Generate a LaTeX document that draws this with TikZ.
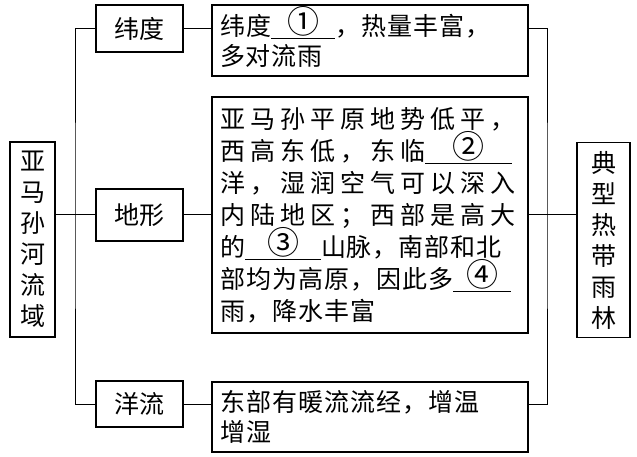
\documentclass[tikz,border=0pt]{standalone}
\usepackage{fontspec}
\newfontfamily\cjk{Noto Sans CJK SC}
\newfontfamily\cjkwide[LetterSpace=20]{Noto Sans CJK SC}
\newfontfamily\cjknote[LetterSpace=4]{Noto Sans CJK SC}
\newcommand{\blank}[2]{\makebox[#1pt]{\smash{\fontsize{32}{32}\selectfont\raisebox{2pt}{#2}}}\llap{\rule[-4pt]{#1pt}{1pt}}}

\begin{document}
\begin{tikzpicture}[x=1pt,y=-1pt,line width=1pt]
\useasboundingbox (0,0) rectangle (637,457);
\tikzset{BoxStyle/.style ={draw, rectangle, line width=1.2pt, inner sep=0pt, font=\cjk\fontsize{25}{31}\selectfont}}
\tikzset{VertStyle/.style ={BoxStyle, minimum height=195pt, align=center}}
\tikzset{TagStyle/.style ={BoxStyle, minimum width=87pt}}
\tikzset{NoteStyle/.style ={BoxStyle, text width=300pt, inner xsep=8pt, align=left}}
\node[VertStyle, minimum width=45pt] (basin) at (32.5,239.5) {亚\\马\\孙\\河\\流\\域};
\node[VertStyle, minimum width=53pt] (forest) at (603.5,240) {典\\型\\热\\带\\雨\\林};
\node[TagStyle, minimum height=47pt] (lat) at (139.5,28.5) {纬度};
\node[TagStyle, minimum height=52pt] (terrain) at (139.5,215) {地形};
\node[TagStyle, minimum height=46pt] (current) at (139.5,404) {洋流};
\node[NoteStyle, minimum height=71pt, font=\cjknote\fontsize{25}{30}\selectfont] (latdesc) at (370,40.5)
  {纬度\blank{64}{①}，热量丰富，\\多对流雨};
\node[NoteStyle, minimum height=236pt, font=\cjk\fontsize{25}{32}\selectfont] (terraindesc) at (370,215)
  {\cjkwide 亚马孙平原地势低平，\\西高东低，东临\blank{87}{②}\\洋，湿润空气可以深入\\内陆地区；西部是高大\\
   \cjknote 的\blank{76}{③}山脉，南部和北\\部均为高原，因此多\blank{58}{④}\\雨，降水丰富};
\node[NoteStyle, minimum height=70pt, font=\cjknote\fontsize{25}{30}\selectfont] (currentdesc) at (370,417)
  {东部有暖流流经，增温\\增湿};
\coordinate (ljoin) at (75,215);
\coordinate (rjoin) at (547,215);
\draw (lat.west) -| (ljoin) |- (current.west);
\draw (basin.east |- terrain) -- (terrain.west);
\draw (lat) -- (latdesc.west |- lat);
\draw (terrain) -- (terraindesc);
\draw (current) -- (currentdesc.west |- current);
\draw (latdesc.east |- lat) -| (rjoin) |- (currentdesc.east |- current);
\draw (terraindesc.east) -- (forest.west |- terraindesc.east);
\end{tikzpicture}
\end{document}
